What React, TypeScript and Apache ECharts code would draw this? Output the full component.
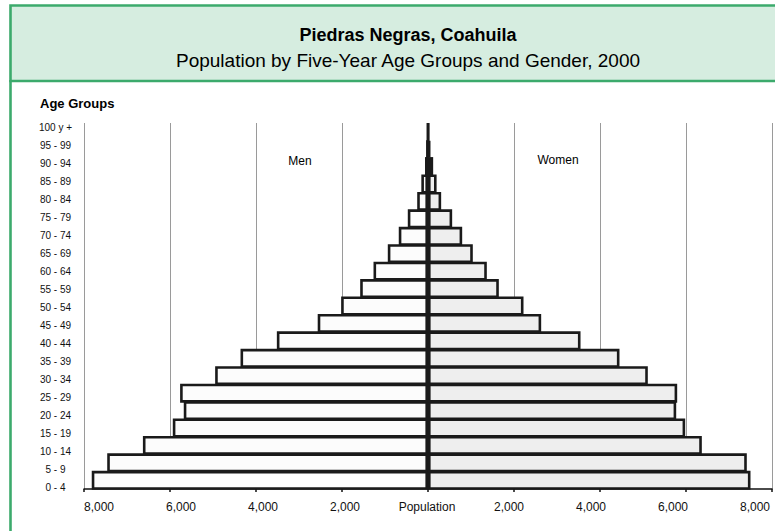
import React, { useEffect, useRef } from "react";
import * as echarts from "echarts";

const ageGroups = [
  "0 - 4", "5 - 9", "10 - 14", "15 - 19", "20 - 24", "25 - 29", "30 - 34",
  "35 - 39", "40 - 44", "45 - 49", "50 - 54", "55 - 59", "60 - 64", "65 - 69",
  "70 - 74", "75 - 79", "80 - 84", "85 - 89", "90 - 94", "95 - 99", "100 y +",
];
const menValues = [
  7820, 7460, 6630, 5935, 5680, 5765, 4950, 4360, 3515, 2565, 2020, 1577, 1267,
  935, 680, 470, 251, 155, 70, 30, 5,
];
const womenValues = [
  7500, 7414, 6368, 5981, 5772, 5795, 5112, 4453, 3547, 2632, 2221, 1647, 1368,
  1042, 795, 562, 306, 200, 120, 55, 10,
];
const titleText = "Piedras Negras, Coahuila";
const subtitleText = "Population by Five-Year Age Groups and Gender, 2000";
const axisMin = -8000;
const axisMax = 8000;
const axisStep = 2000;

const FONT = "'Liberation Sans', Arial, sans-serif";

function fmt(v: number): string {
  if (v === 0) return "Population";
  return Math.abs(v).toLocaleString("en-US");
}

export default function App() {
  const ref = useRef<HTMLDivElement>(null);
  useEffect(() => {
    if (!ref.current) return;
    const chart = echarts.init(ref.current, undefined, { renderer: "svg" });
    chart.setOption({
      animation: false,
      backgroundColor: "#ffffff",
      textStyle: { fontFamily: FONT },
      graphic: [
        {
          type: "rect",
          z: -10,
          shape: { x: 10.5, y: 5.5, width: 800, height: 75.5 },
          style: { fill: "#d6ede0", stroke: "#3caa6c", lineWidth: 2.6 },
        },
        {
          type: "line",
          z: -10,
          shape: { x1: 10.5, y1: 80, x2: 10.5, y2: 540 },
          style: { stroke: "#3caa6c", lineWidth: 2.6 },
        },
        {
          type: "text",
          x: 408,
          y: 35,
          style: {
            text: titleText,
            fontFamily: FONT,
            fontSize: 18,
            fontWeight: "bold",
            fill: "#000",
            align: "center",
            verticalAlign: "middle",
          },
        },
        {
          type: "text",
          x: 408,
          y: 60,
          style: {
            text: subtitleText,
            fontFamily: FONT,
            fontSize: 19,
            fill: "#000",
            align: "center",
            verticalAlign: "middle",
          },
        },
        {
          type: "text",
          x: 40,
          y: 103,
          style: {
            text: "Age Groups",
            fontFamily: FONT,
            fontSize: 13,
            fontWeight: "bold",
            fill: "#000",
            align: "left",
            verticalAlign: "middle",
          },
        },
        {
          type: "text",
          x: 300,
          y: 161,
          style: {
            text: "Men",
            fontFamily: FONT,
            fontSize: 12,
            fill: "#000",
            align: "center",
            verticalAlign: "middle",
          },
        },
        {
          type: "text",
          x: 558,
          y: 160,
          style: {
            text: "Women",
            fontFamily: FONT,
            fontSize: 12,
            fill: "#000",
            align: "center",
            verticalAlign: "middle",
          },
        },
      ],
      grid: [
        { left: 84, right: 3, top: 123, bottom: 42 },
        { left: 99, right: 20, top: 118, bottom: 35 },
      ],
      xAxis: [
        {
          gridIndex: 0,
          type: "value",
          min: axisMin,
          max: axisMax,
          interval: axisStep,
          axisLabel: { show: false },
          axisLine: { show: true, lineStyle: { color: "#111", width: 1.5 } },
          axisTick: { show: true, length: 3, lineStyle: { color: "#111", width: 1.5 } },
          splitLine: { show: true, lineStyle: { color: "#9a9a9a", width: 1 } },
        },
        {
          gridIndex: 1,
          type: "value",
          min: axisMin,
          max: axisMax,
          interval: axisStep,
          axisLabel: {
            show: true,
            formatter: fmt,
            fontSize: 12,
            color: "#111",
            margin: 5,
            fontFamily: FONT,
          },
          axisLine: { show: false },
          axisTick: { show: false },
          splitLine: { show: false },
        },
      ],
      yAxis: [
        {
          gridIndex: 0,
          type: "category",
          data: ageGroups,
          axisLabel: { show: false },
          axisLine: { show: false },
          axisTick: { show: false },
          splitLine: { show: false },
        },
        {
          gridIndex: 1,
          type: "category",
          data: ageGroups,
          axisLabel: {
            show: true,
            fontSize: 10,
            color: "#111",
            align: "center",
            margin: 43.5,
            fontFamily: FONT,
          },
          axisLine: { show: false },
          axisTick: { show: false },
          splitLine: { show: false },
        },
      ],
      series: [
        {
          name: "Men",
          type: "bar",
          xAxisIndex: 0,
          yAxisIndex: 0,
          stack: "pop",
          barWidth: 19,
          data: menValues.map((v) => -v),
          itemStyle: { color: "#fcfcfc", borderColor: "#1a1a1a", borderWidth: 2.6 },
        },
        {
          name: "Women",
          type: "bar",
          xAxisIndex: 0,
          yAxisIndex: 0,
          stack: "pop",
          barWidth: 19,
          data: womenValues,
          itemStyle: { color: "#eeeeee", borderColor: "#1a1a1a", borderWidth: 2.6 },
        },
      ],
    });
    return () => chart.dispose();
  }, []);
  return (
    <div
      ref={ref}
      style={{ position: "absolute", left: 0, top: 0, width: 775, height: 531 }}
    />
  );
}
